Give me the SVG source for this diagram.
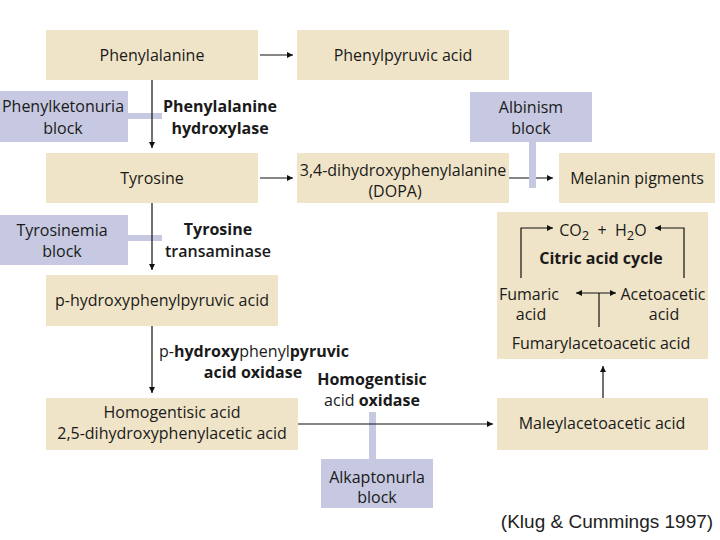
<svg xmlns="http://www.w3.org/2000/svg" width="720" height="540" viewBox="0 0 720 540">
<defs>
<marker id="ah" viewBox="0 0 10 10" refX="10" refY="5" markerWidth="10" markerHeight="6" markerUnits="userSpaceOnUse" orient="auto"><path d="M0,0 L10,5 L0,10 z" fill="#111"/></marker>
<marker id="ahs" viewBox="0 0 10 10" refX="0" refY="5" markerWidth="10" markerHeight="6" markerUnits="userSpaceOnUse" orient="auto"><path d="M10,0 L0,5 L10,10 z" fill="#111"/></marker>
</defs>
<style>
.box{fill:#efe4c7}
.blk{fill:#c6c9e1}
text{font-family:"Open Sans","Noto Sans","DejaVu Sans",sans-serif;font-size:16px;fill:#1a1a1a;text-anchor:middle}
.b{font-weight:bold}
.sb{font-weight:600}
.ln{stroke:#111;stroke-width:1.2;fill:none}
.cap{font-family:"Liberation Sans",Arial,sans-serif;font-size:19px;fill:#222}
</style>
<rect width="720" height="540" fill="#fff"/>
<g id="bars">
<rect class="blk" x="126" y="113" width="36" height="6"/>
<rect class="blk" x="126" y="235" width="36" height="6"/>
<rect class="blk" x="369" y="412" width="7" height="48"/>
</g>
<g id="connectors">
<line class="ln" x1="152" y1="80" x2="152" y2="148" marker-end="url(#ah)"/>
<line class="ln" x1="152" y1="203" x2="152" y2="270" marker-end="url(#ah)"/>
<line class="ln" x1="152" y1="326" x2="152" y2="393" marker-end="url(#ah)"/>
<line class="ln" x1="260" y1="55" x2="293" y2="55" marker-end="url(#ah)"/>
<line class="ln" x1="260" y1="178" x2="293" y2="178" marker-end="url(#ah)" stroke="#555"/>
<line class="ln" x1="508" y1="178" x2="553" y2="178" marker-end="url(#ah)"/>
<line class="ln" x1="298" y1="424" x2="493" y2="424" marker-end="url(#ah)"/>
<line class="ln" x1="603" y1="398" x2="603" y2="366" stroke-width="2" marker-end="url(#ah)"/>
</g>
<g id="albinism-bar"><rect class="blk" x="529" y="140" width="7" height="48"/></g>
<g id="phenylalanine"><rect class="box" x="46" y="30" width="212" height="50"/><text x="152" y="61">Phenylalanine</text></g>
<g id="phenylpyruvic"><rect class="box" x="297" y="30" width="212" height="50"/><text x="403" y="61">Phenylpyruvic acid</text></g>
<g id="pku"><rect class="blk" x="0" y="91" width="128" height="51"/><text x="63" y="112">Phenylketonuria</text><text x="63" y="134">block</text></g>
<g id="pah-label"><text class="b" x="220" y="112">Phenylalanine</text><text class="b" x="220" y="134">hydroxylase</text></g>
<g id="tyrosine"><rect class="box" x="46" y="153" width="212" height="50"/><text x="152" y="184">Tyrosine</text></g>
<g id="dopa"><rect class="box" x="297" y="153" width="212" height="50"/><text x="403" y="176">3,4-dihydroxyphenylalanine</text><text x="395" y="197">(DOPA)</text></g>
<g id="albinism"><rect class="blk" x="470" y="92" width="122" height="50"/><text x="531" y="113">Albinism</text><text x="531" y="134">block</text></g>
<g id="melanin"><rect class="box" x="559" y="153" width="156" height="50"/><text x="637" y="184">Melanin pigments</text></g>
<g id="tyrosinemia"><rect class="blk" x="0" y="215" width="128" height="50"/><text x="62" y="236">Tyrosinemia</text><text x="62" y="257">block</text></g>
<g id="tat-label"><text class="b" x="218" y="235">Tyrosine</text><text class="sb" x="218" y="257">transaminase</text></g>
<g id="hpp"><rect class="box" x="46" y="275" width="232" height="51"/><text x="162" y="306">p-hydroxyphenylpyruvic acid</text></g>
<g id="hpp-oxidase-label"><text x="254" y="357">p-<tspan class="b">hydroxy</tspan>phenyl<tspan class="b">pyruvic</tspan></text><text class="b" x="253" y="378">acid oxidase</text></g>
<g id="homogentisic"><rect class="box" x="46" y="398" width="252" height="52"/><text x="172" y="418">Homogentisic acid</text><text x="172" y="439">2,5-dihydroxyphenylacetic acid</text></g>
<g id="hgo-label"><text class="b" x="372" y="385">Homogentisic</text><text x="372" y="406">acid <tspan class="b">oxidase</tspan></text></g>
<g id="alkaptonuria"><rect class="blk" x="321" y="459" width="112" height="49"/><text x="377" y="483">Alkaptonurla</text><text x="377" y="503">block</text></g>
<g id="maleylacetoacetic"><rect class="box" x="497" y="398" width="211" height="52"/><text x="602" y="429">Maleylacetoacetic acid</text></g>
<g id="citric">
<rect class="box" x="497" y="212" width="211" height="147"/>
<polyline class="ln" points="521,278 521,228 553,228" marker-end="url(#ah)"/>
<polyline class="ln" points="684,278 684,228 655,228" marker-end="url(#ah)"/>
<line class="ln" x1="576" y1="293" x2="616" y2="293" marker-start="url(#ahs)" marker-end="url(#ah)"/>
<line class="ln" x1="599" y1="293" x2="599" y2="327"/>
<text x="603" y="236" xml:space="preserve">CO<tspan font-size="13" dy="4">2</tspan><tspan dy="-4">  +  H</tspan><tspan font-size="13" dy="4">2</tspan><tspan dy="-4">O</tspan></text>
<text class="b" x="601" y="264">Citric acid cycle</text>
<text x="529" y="300">Fumaric</text><text x="531" y="320">acid</text>
<text x="663" y="300">Acetoacetic</text><text x="664" y="320">acid</text>
<text x="601" y="349">Fumarylacetoacetic acid</text>
</g>
<text class="cap" x="607" y="528">(Klug &amp; Cummings 1997)</text>
</svg>
